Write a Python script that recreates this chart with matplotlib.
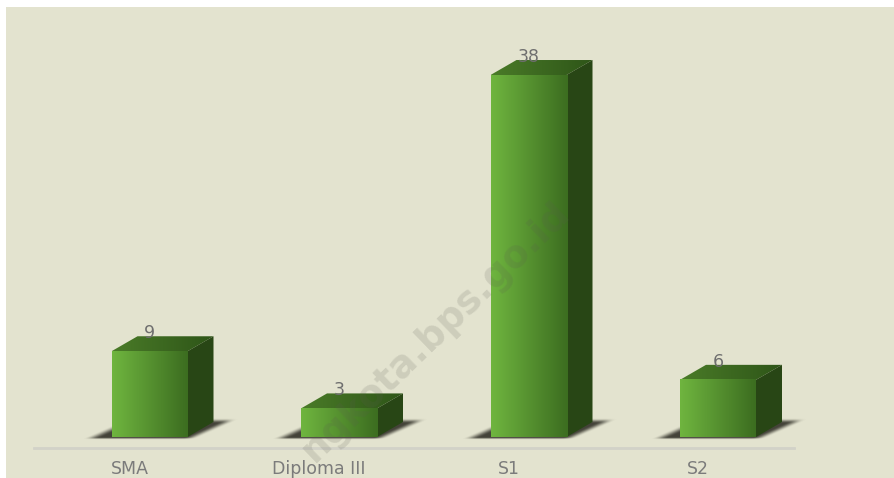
import numpy as np
import matplotlib
matplotlib.use("Agg")
import matplotlib.pyplot as plt
from matplotlib.patches import Polygon, Rectangle

categories = ["SMA", "Diploma III", "S1", "S2"]
values = [9, 3, 38, 6]

W, H = 894, 478
BG = "#e3e3cf"
LEFT, RIGHT, AXIS_Y, TOP = 34, 794, 448, 7
BASE_Y = 437
PX_PER_UNIT = 9.526
STEP = 189.5
X0 = 129.75

fig = plt.figure(figsize=(W / 100, H / 100), dpi=100, facecolor="white")
fig.patches.append(Rectangle((6 / W, 0), (W - 6) / W, (H - 7) / H, transform=fig.transFigure,
                             facecolor=BG, edgecolor="none", zorder=-10))
ax = fig.add_axes([LEFT / W, (H - AXIS_Y) / H, (RIGHT - LEFT) / W, (AXIS_Y - TOP) / H])
ax.patch.set_alpha(0)
XLIM = ((LEFT - X0) / STEP, (RIGHT - X0) / STEP)
YLIM = (-(AXIS_Y - BASE_Y) / PX_PER_UNIT, (BASE_Y - TOP) / PX_PER_UNIT)
for s in ("top", "left", "right"):
    ax.spines[s].set_visible(False)
ax.spines["bottom"].set_color("#d2d2c8")
ax.spines["bottom"].set_linewidth(2)
ax.set_yticks([])
ax.set_xticks(range(len(categories)), categories)
ax.tick_params(axis="x", length=0, pad=9, labelsize=12.5, labelcolor="#7b7b7b")

ux = 1 / STEP                    # data units per px, x
uy = 1 / PX_PER_UNIT             # data units per px, y
BAR_W, DX, DY, SHIFT = 76 * ux, 26 * ux, 15 * uy, 19.75 * ux


def hgrad(x0, x1, y0, y1, c0, c1, clip=None, z=3):
    c0, c1 = np.array(matplotlib.colors.to_rgb(c0)), np.array(matplotlib.colors.to_rgb(c1))
    t = np.linspace(0, 1, 128)[None, :, None]
    im = ax.imshow(c0 + (c1 - c0) * t, extent=(x0, x1, y0, y1), aspect="auto", zorder=z,
                   interpolation="bilinear", origin="lower")
    if clip is not None:
        clip.set_transform(ax.transData)
        im.set_clip_path(clip)


def smooth(a):
    a = np.clip(a, 0, 1)
    return a * a * (3 - 2 * a)


def shadow(l):
    """Soft sheared shadow of the bar footprint; px offsets relative to the bar's left edge."""
    px = np.arange(-40, 150)
    py = np.arange(-4, 26)          # px above baseline
    xx, yy = np.meshgrid(px, py)
    v = (yy + 2) / 20
    left = -24 + 44 * v
    right = 78 + 44 * v
    a = smooth((xx - left + 6) / 16) * smooth((right - xx + 6) / 14) * smooth((yy + 3) / 2.5) * smooth((19 - yy) / 5)
    img = np.zeros(a.shape + (4,))
    img[..., :3] = matplotlib.colors.to_rgb("#27261e")
    img[..., 3] = a * 0.85
    ax.imshow(img, extent=(l + px[0] * ux, l + px[-1] * ux, py[0] * uy, py[-1] * uy), aspect="auto",
              origin="lower", zorder=1, interpolation="bilinear", clip_on=False)


for i, v in enumerate(values):
    l = i + SHIFT - BAR_W / 2
    r = l + BAR_W
    shadow(l)
    # top face
    top = Polygon([(l, v), (r, v), (r + DX, v + DY), (l + DX, v + DY)], closed=True,
                  facecolor="none", edgecolor="none")
    ax.add_patch(top)
    hgrad(l, r + DX, v, v + DY, "#4a7b28", "#2e5518", clip=top)
    # side face
    ax.add_patch(Polygon([(r, 0), (r + DX, DY), (r + DX, v + DY), (r, v)], closed=True,
                         facecolor="#284615", edgecolor="none", zorder=3))
    # front face
    hgrad(l, r, 0, v, "#6fb53f", "#3c6d20", z=4)
    ax.text(i + SHIFT, v + 18 * uy, str(v), ha="center", va="center", fontsize=12.5,
            color="#6e6e6e", zorder=6)

ax.set_xlim(*XLIM)
ax.set_ylim(*YLIM)

fig.text(565 / W, (H - 208) / H, "ngkota.bps.go.id", rotation=44, rotation_mode="anchor",
         ha="right", va="center", fontsize=27, fontweight="bold", color="#5a5a50", alpha=0.16, zorder=20)

fig.savefig("out.png", dpi=100, facecolor="white")
